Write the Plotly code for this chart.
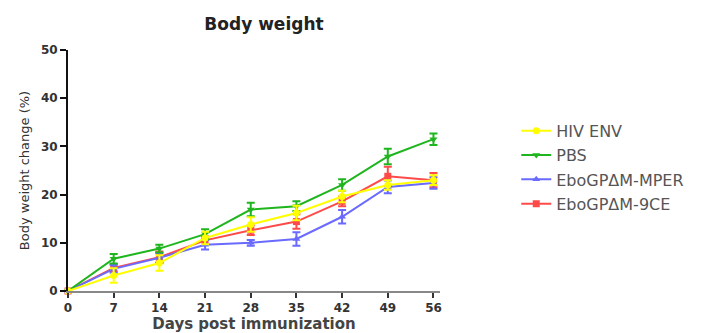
import plotly.graph_objects as go

days = [0, 7, 14, 21, 28, 35, 42, 49, 56]

hiv_env = [0, 3.2, 5.8, 11.0, 13.8, 16.2, 19.6, 22.0, 23.0]
hiv_env_err = [0, 1.5, 1.6, 1.3, 1.5, 1.5, 1.2, 1.0, 1.0]

pbs = [0, 6.7, 8.8, 11.8, 16.9, 17.6, 22.0, 27.9, 31.5]
pbs_err = [0, 1.0, 0.8, 1.0, 1.4, 1.0, 1.2, 1.6, 1.2]

mper = [0, 4.6, 6.9, 9.6, 10.0, 10.8, 15.4, 21.6, 22.4]
mper_err = [0, 0.8, 1.0, 1.0, 0.6, 1.4, 1.4, 1.3, 1.2]

ce9 = [0, 4.8, 7.0, 10.5, 12.6, 14.4, 18.6, 23.8, 23.0]
ce9_err = [0, 0.8, 1.2, 0.8, 1.0, 1.5, 1.0, 2.0, 1.5]

y_ticks = [0, 10, 20, 30, 40, 50]

series = [
    # name, values, errors, color, symbol, legend rank
    ("EboGPΔM-9CE", ce9, ce9_err, "#ff4a4a", "square", 4),
    ("EboGPΔM-MPER", mper, mper_err, "#6a6aff", "triangle-up", 3),
    ("PBS", pbs, pbs_err, "#1fb51f", "triangle-down", 2),
    ("HIV ENV", hiv_env, hiv_env_err, "#ffff00", "circle", 1),
]

FONT = "DejaVu Sans, Arial, sans-serif"
W, H = 697, 325  # page body adds an 8px offset

fig = go.Figure()
for name, vals, errs, color, sym, rank in series:
    fig.add_trace(go.Scatter(
        x=days, y=vals, name=name, mode="lines+markers",
        line=dict(color=color, width=2),
        marker=dict(color=color, symbol=sym, size=7),
        error_y=dict(type="data", array=errs, color=color, thickness=2, width=4),
        legendrank=rank, legendgroup=name, cliponaxis=False,
    ))

fig.update_layout(
    width=W, height=H,
    margin=dict(l=60, r=264.5, t=42, b=41.5),
    plot_bgcolor="white", paper_bgcolor="white",
    font=dict(family=FONT, color="#333"),
    title=dict(text="<b>Body weight</b>", x=256 / W, xanchor="center",
               y=1 - 16 / H, yanchor="middle", font=dict(size=17, color="#222")),
    showlegend=True,
    legend=dict(x=1.205, y=0.735, xanchor="left", yanchor="top",
                font=dict(size=16, color="#555", family=FONT), tracegroupgap=0.5,
                itemwidth=30, bgcolor="rgba(0,0,0,0)"),
)

fig.update_xaxes(
    range=[0, 57], tickvals=days, ticks="outside", ticklen=5, tickwidth=2,
    tickcolor="#333", showline=True, linecolor="#888", linewidth=2,
    showgrid=False, zeroline=False, automargin=False,
    tickfont=dict(size=12, color="#333", family=FONT, weight="bold"),
    title=dict(text="<b>Days post immunization</b>", font=dict(size=15, color="#444"), standoff=2),
)
fig.update_yaxes(
    range=[0, 50], tickvals=y_ticks, ticks="outside", ticklen=6, tickwidth=2,
    tickcolor="#111", showline=True, linecolor="#111", linewidth=2,
    showgrid=False, zeroline=False, automargin=False,
    tickfont=dict(size=12, color="#333", family=FONT, weight="bold"),
    title=dict(text="Body weight change (%)", font=dict(size=13, color="#333"), standoff=8),
)

fig.write_html("out.html")
